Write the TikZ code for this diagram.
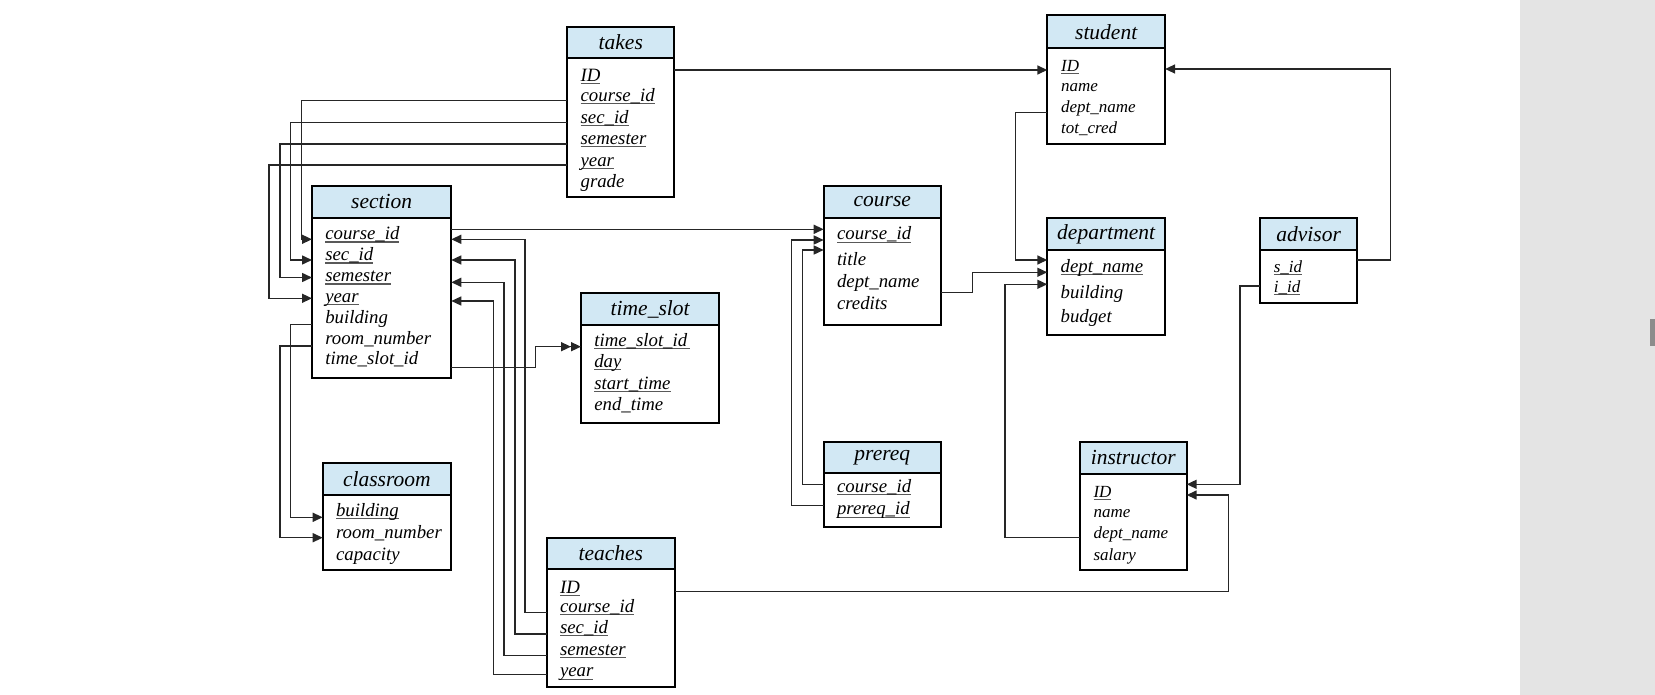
\documentclass[tikz,border=0pt]{standalone}
\usepackage{fontspec}
\setmainfont{Liberation Serif}
\usetikzlibrary{arrows.meta}

\definecolor{hdrblue}{HTML}{D2E8F4}
\definecolor{panelgray}{HTML}{E4E4E4}
\definecolor{bargray}{HTML}{8C8C8C}

% chiave primaria: testo sottolineato
\newcommand{\pk}[1]{\setbox0=\hbox{#1}\rlap{\color{black!65}\rule[-0.15em]{\wd0}{0.06em}}\box0}

\tikzset{
  tbltitle/.style={draw, line width=2pt, fill=hdrblue, anchor=north west, inner sep=0pt, outer sep=0pt,
    font=\fontsize{21.5}{24}\selectfont\itshape},
  tblbody/.style={draw, line width=2pt, anchor=north west, inner sep=0pt, outer sep=0pt},
  field/.style={anchor=west, inner xsep=13.3pt, inner ysep=0pt, outer sep=0pt, text height=13pt, text depth=4.5pt,
    font=\fontsize{18.8}{21}\selectfont\itshape},
  fieldsm/.style={field, inner xsep=13.8pt, text height=12pt, text depth=4.2pt,
    font=\fontsize{17}{19}\selectfont\itshape},
  fk/.style={line width=1.5pt, black!85, -{Triangle[length=10pt,width=9pt]}},
  fkmany/.style={line width=1.5pt, black!85, -{Triangle[length=10pt,width=9pt]Triangle[length=10pt,width=9pt]}},
}

\begin{document}
\begin{tikzpicture}[x=1pt, y=-1pt]

\useasboundingbox (0,0) rectangle (1655,695);
\fill[panelgray] (1520,0) rectangle (1655,695);
\fill[bargray] (1650,319) rectangle (1655,346);

%% ---- takes ----
\node[tbltitle, minimum width=107pt, minimum height=31.6pt] (takes) at (567.3,26.7) {takes};
\node[tblbody, minimum width=107pt, minimum height=138.4pt] (takes-body) at (takes.south west) {};
\foreach \n/\t/\y in {id/\pk{ID}/77, cid/\pk{course\_id}/97.3, sid/\pk{sec\_id}/118.8,
                      sem/\pk{semester}/140.3, yr/\pk{year}/161.8, gr/grade/183.3}
  \node[field] (takes-\n) at (567.3,\y) {\t};

%% ---- section ----
\node[tbltitle, minimum width=139.3pt, minimum height=32pt] (section) at (312,185.7) {section};
\node[tblbody, minimum width=139.3pt, minimum height=160.6pt] (section-body) at (section.south west) {};
\foreach \n/\t/\y in {cid/\pk{course\_id}/235.5, sid/\pk{sec\_id}/256.5, sem/\pk{semester}/277.5,
                      yr/\pk{year}/298.3, bld/building/319, room/room\_number/340, tsid/time\_slot\_id/360.7}
  \node[field] (section-\n) at (312,\y) {\t};

%% ---- time_slot ----
\node[tbltitle, minimum width=138.3pt, minimum height=31.7pt] (timeslot) at (581,293.3) {time\_slot};
\node[tblbody, minimum width=138.3pt, minimum height=98.3pt] (timeslot-body) at (timeslot.south west) {};
\foreach \n/\t/\y in {tsid/\pk{time\_slot\_id\,}/342, day/\pk{day}/363.3, st/\pk{start\_time}/385, et/end\_time/406}
  \node[field] (timeslot-\n) at (581,\y) {\t};

%% ---- classroom ----
\node[tbltitle, minimum width=128.3pt, minimum height=31.7pt] (classroom) at (322.7,463.3) {classroom};
\node[tblbody, minimum width=128.3pt, minimum height=75pt] (classroom-body) at (classroom.south west) {};
\foreach \n/\t/\y in {bld/\pk{building}/512.3, room/room\_number/534.3, cap/capacity/556}
  \node[field] (classroom-\n) at (322.7,\y) {\t};

%% ---- teaches ----
\node[tbltitle, minimum width=128.3pt, minimum height=31.6pt] (teaches) at (546.7,537.7) {teaches};
\node[tblbody, minimum width=128.3pt, minimum height=118pt] (teaches-body) at (teaches.south west) {};
\foreach \n/\t/\y in {id/\pk{ID}/589, cid/\pk{course\_id}/608.3, sid/\pk{sec\_id}/629.3,
                      sem/\pk{semester}/651, yr/\pk{year}/672.7}
  \node[field] (teaches-\n) at (546.7,\y) {\t};

%% ---- course ----
\node[tbltitle, minimum width=117.3pt, minimum height=32pt] (course) at (823.7,185.7) {course};
\node[tblbody, minimum width=117.3pt, minimum height=107.3pt] (course-body) at (course.south west) {};
\foreach \n/\t/\y in {cid/\pk{course\_id}/235.7, title/title/261.7, dn/dept\_name/283.5, cr/credits/305}
  \node[field] (course-\n) at (823.7,\y) {\t};

%% ---- prereq ----
\node[tbltitle, minimum width=117.3pt, minimum height=31.6pt] (prereq) at (823.7,441.7) {prereq};
\node[tblbody, minimum width=117.3pt, minimum height=54pt] (prereq-body) at (prereq.south west) {};
\foreach \n/\t/\y in {cid/\pk{course\_id}/488.3, pid/\pk{prereq\_id}/510.7}
  \node[field] (prereq-\n) at (823.7,\y) {\t};

%% ---- student ----
\node[tbltitle, minimum width=117.8pt, minimum height=33pt] (student) at (1047.3,15.3) {student};
\node[tblbody, minimum width=117.8pt, minimum height=95.7pt] (student-body) at (student.south west) {};
\foreach \n/\t/\y in {id/\pk{ID}/67.5, name/name/87.3, dn/dept\_name/108.3, tc/tot\_cred/129.3}
  \node[fieldsm] (student-\n) at (1047.3,\y) {\t};

%% ---- department ----
\node[tbltitle, minimum width=117.8pt, minimum height=32pt] (department) at (1047.3,218) {department};
\node[tblbody, minimum width=117.8pt, minimum height=85pt] (department-body) at (department.south west) {};
\foreach \n/\t/\y in {dn/\pk{dept\_name}/268.3, bld/building/294, bud/budget/318.3}
  \node[field] (department-\n) at (1047.3,\y) {\t};

%% ---- advisor ----
\node[tbltitle, minimum width=97.3pt, minimum height=31.7pt] (advisor) at (1260,218.3) {advisor};
\node[tblbody, minimum width=97.3pt, minimum height=53.3pt] (advisor-body) at (advisor.south west) {};
\foreach \n/\t/\y in {sid/\pk{s\_id}/268.3, iid/\pk{i\_id}/288.3}
  \node[fieldsm] (advisor-\n) at (1260,\y) {\t};

%% ---- instructor ----
\node[tbltitle, minimum width=107pt, minimum height=32.3pt] (instructor) at (1079.7,441.7) {instructor};
\node[tblbody, minimum width=107pt, minimum height=96pt] (instructor-body) at (instructor.south west) {};
\foreach \n/\t/\y in {id/\pk{ID}/493.7, name/name/513.3, dn/dept\_name/535, sal/salary/556.7}
  \node[fieldsm] (instructor-\n) at (1079.7,\y) {\t};

%% ---- takes -> student, section ----
\draw[fk] ([yshift=-2.5pt]student-id.west -| takes-body.east) -- ([yshift=-2.5pt]student-id.west);
\draw[fk] ([yshift=-3.4pt]takes-cid.west) -| ([xshift=-10.3pt,yshift=-3.8pt]section-cid.west) -- ([yshift=-3.8pt]section-cid.west);
\draw[fk] ([yshift=-3.5pt]takes-sid.west) -| ([xshift=-21.3pt,yshift=-3.5pt]section-sid.west) -- ([yshift=-3.5pt]section-sid.west);
\draw[fk] ([yshift=-3.7pt]takes-sem.west) -| ([xshift=-32pt]section-sem.west) -- (section-sem.west);
\draw[fk] ([yshift=-3.2pt]takes-yr.west) -| ([xshift=-43pt]section-yr.west) -- (section-yr.west);

%% ---- teaches -> section ----
\draw[fk] ([yshift=-4.4pt]teaches-cid.west) -| ([xshift=73.7pt,yshift=-3.8pt]section-cid -| section-body.east) -- ([yshift=-3.8pt]section-cid -| section-body.east);
\draw[fk] ([yshift=-4.7pt]teaches-sid.west) -| ([xshift=63.7pt,yshift=-3.5pt]section-sid -| section-body.east) -- ([yshift=-3.5pt]section-sid -| section-body.east);
\draw[fk] ([yshift=-4.7pt]teaches-sem.west) -| ([xshift=52.7pt,yshift=-4.8pt]section-sem -| section-body.east) -- ([yshift=-4.8pt]section-sem -| section-body.east);
\draw[fk] ([yshift=-1.6pt]teaches-yr.west) -| ([xshift=42pt,yshift=-2.7pt]section-yr -| section-body.east) -- ([yshift=-2.7pt]section-yr -| section-body.east);

%% ---- section -> classroom, time_slot, course ----
\draw[fk] ([yshift=-5.3pt]section-bld.west) -| ([xshift=-32pt,yshift=-5pt]classroom-bld.west) -- ([yshift=-5pt]classroom-bld.west);
\draw[fk] ([yshift=-6pt]section-room.west) -| ([xshift=-42.7pt,yshift=-3.4pt]classroom-room.west) -- ([yshift=-3.4pt]classroom-room.west);
\draw[fkmany] ([yshift=-7pt]section-tsid -| section-body.east) -| ([xshift=-45.3pt,yshift=-4.7pt]timeslot-tsid.west) -- ([yshift=-4.7pt]timeslot-tsid.west);
\draw[fk] ([yshift=6.2pt]section-cid -| section-body.east) -- ([yshift=6.2pt]section-cid -| course-body.west);

%% ---- prereq -> course ----
\draw[fk] ([yshift=3.6pt]prereq-cid.west) -| ([xshift=-21pt,yshift=-14.3pt]course-cid.west) -- ([yshift=-14.3pt]course-cid.west);
\draw[fk] ([yshift=5pt]prereq-pid.west) -| ([xshift=-32pt,yshift=-4.3pt]course-cid.west) -- ([yshift=-4.3pt]course-cid.west);

%% ---- -> department ----
\draw[fk] ([yshift=-9.2pt]course-dn -| course-body.east) -| ([xshift=-74.6pt,yshift=-4pt]department-dn.west) -- ([yshift=-4pt]department-dn.west);
\draw[fk] ([yshift=-4pt]student-dn.west) -| ([xshift=-31.6pt,yshift=8.3pt]department-dn.west) -- ([yshift=8.3pt]department-dn.west);
\draw[fk] ([yshift=-2.7pt]instructor-dn.west) -| ([xshift=-42.3pt,yshift=-16pt]department-dn.west) -- ([yshift=-16pt]department-dn.west);

%% ---- advisor -> student, instructor ----
\draw[fk] ([yshift=8.3pt]advisor-sid -| advisor-body.east) -| ([xshift=225.6pt,yshift=-1.5pt]student-id -| student-body.east) -- ([yshift=-1.5pt]student-id -| student-body.east);
\draw[fk] ([yshift=2.3pt]advisor-iid.west) -| ([xshift=53.3pt,yshift=9.4pt]instructor-id -| instructor-body.east) -- ([yshift=9.4pt]instructor-id -| instructor-body.east);

%% ---- teaches -> instructor ----
\draw[fk] ([yshift=-2.7pt]teaches-id -| teaches-body.east) -| ([xshift=41.6pt,yshift=-1.3pt]instructor-id -| instructor-body.east) -- ([yshift=-1.3pt]instructor-id -| instructor-body.east);

\end{tikzpicture}
\end{document}
